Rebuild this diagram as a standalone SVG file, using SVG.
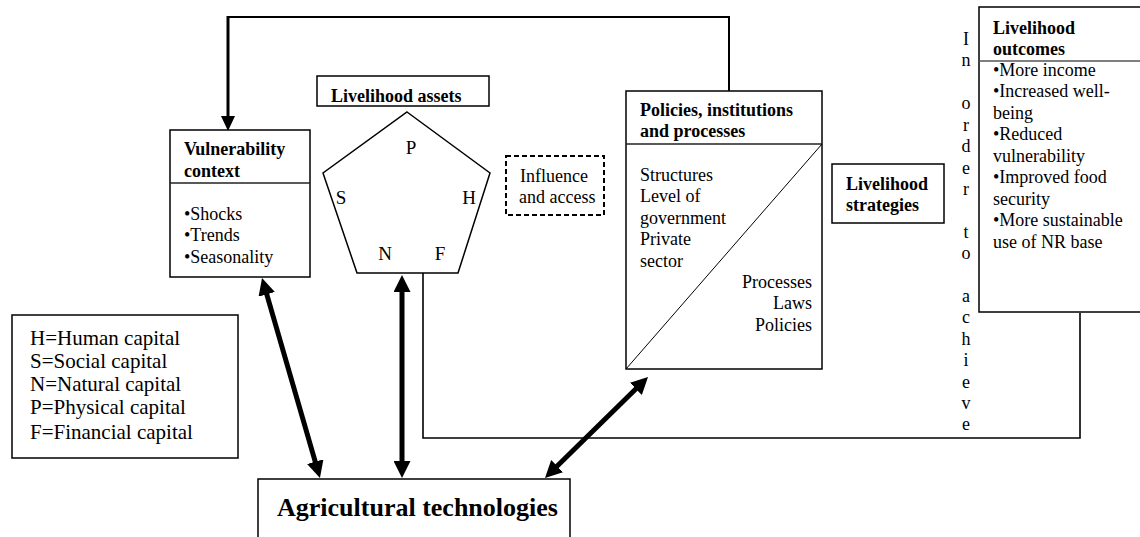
<svg xmlns="http://www.w3.org/2000/svg" width="1140" height="537" viewBox="0 0 1140 537">
  <style>
    .box { fill: #fff; stroke: #000; stroke-width: 1.5; }
    .sep { fill: none; stroke: #222; stroke-width: 1.5; }
    .t { font-family: "Liberation Serif", "Times New Roman", Times, serif; font-size: 18px; fill: #000; }
    .b { font-weight: bold; }
    .leg { font-size: 21px; }
    .big { font-size: 26px; }
    .lbl { font-size: 19px; text-anchor: middle; }
    .vt { text-anchor: middle; }
    .thick { fill: none; stroke: #000; stroke-width: 5; }
    .thin { fill: none; stroke: #000; stroke-width: 1.6; }
  </style>
  <defs>
    <marker id="headBig" markerUnits="userSpaceOnUse" markerWidth="18" markerHeight="17" refX="2" refY="8.5" orient="auto-start-reverse">
      <path d="M0,0 L17,8.5 L0,17 z" fill="#000"/>
    </marker>
    <marker id="headMid" markerUnits="userSpaceOnUse" markerWidth="16" markerHeight="14" refX="1" refY="7" orient="auto">
      <path d="M0,0 L15,7 L0,14 z" fill="#000"/>
    </marker>
    <marker id="headSmall" markerUnits="userSpaceOnUse" markerWidth="13" markerHeight="11" refX="1" refY="5.5" orient="auto">
      <path d="M0,0 L12,5.5 L0,11 z" fill="#000"/>
    </marker>
  </defs>

  <!-- connectors -->
  <g id="connectors">
    <!-- feedback from policies back to vulnerability context -->
    <polyline points="729,91 729,17 228,17" fill="none" stroke="#000" stroke-width="2"/>
    <line x1="228" y1="16" x2="228" y2="117" stroke="#000" stroke-width="3" marker-end="url(#headMid)"/>
    <!-- outcomes loop back to assets -->
    <polyline class="thin" points="1080,313 1080,438 423,438 423,264" marker-end="url(#headSmall)"/>
    <!-- two-way links with agricultural technologies -->
    <line class="thick" x1="266.2" y1="292.4" x2="315.8" y2="463.6" marker-start="url(#headBig)" marker-end="url(#headBig)"/>
    <line class="thick" x1="402" y1="290" x2="402" y2="463" marker-start="url(#headBig)" marker-end="url(#headBig)"/>
    <line class="thick" x1="555.7" y1="467.5" x2="637.3" y2="387.5" marker-start="url(#headBig)" marker-end="url(#headBig)"/>
  </g>

  <!-- vulnerability context -->
  <g id="vulnerability">
    <rect class="box" x="170" y="130" width="140" height="147"/>
    <line class="sep" x1="170" y1="183" x2="310" y2="183"/>
    <text class="t b" x="184" y="155">Vulnerability</text>
    <text class="t b" x="184" y="177">context</text>
    <text class="t" x="184" y="220">•Shocks</text>
    <text class="t" x="184" y="241">•Trends</text>
    <text class="t" x="184" y="263">•Seasonality</text>
  </g>

  <!-- livelihood assets -->
  <g id="assets-title">
    <rect class="box" x="317" y="76" width="172" height="30"/>
    <text class="t b" x="331" y="102">Livelihood assets</text>
  </g>
  <g id="assets-pentagon">
    <polygon class="box" points="407,112 490,173 458,273 357,273 323,173"/>
    <text class="t lbl" x="411" y="154">P</text>
    <text class="t lbl" x="341" y="204">S</text>
    <text class="t lbl" x="469" y="204">H</text>
    <text class="t lbl" x="385" y="260">N</text>
    <text class="t lbl" x="440" y="260">F</text>
  </g>

  <!-- influence and access -->
  <g id="influence">
    <rect x="506" y="156" width="98" height="59" fill="#fff" stroke="#000" stroke-width="2" stroke-dasharray="5,3"/>
    <text class="t" x="520" y="182">Influence</text>
    <text class="t" x="519" y="203">and access</text>
  </g>

  <!-- policies, institutions and processes -->
  <g id="policies">
    <rect class="box" x="626" y="91" width="196" height="278"/>
    <line class="sep" x1="626" y1="144" x2="822" y2="144"/>
    <line x1="626" y1="369" x2="822" y2="144" stroke="#000" stroke-width="1"/>
    <text class="t b" x="640" y="116">Policies, institutions</text>
    <text class="t b" x="640" y="137">and processes</text>
    <text class="t" x="640" y="181">Structures</text>
    <text class="t" x="640" y="202">Level of</text>
    <text class="t" x="640" y="224">government</text>
    <text class="t" x="640" y="245">Private</text>
    <text class="t" x="640" y="267">sector</text>
    <text class="t" x="812" y="288" text-anchor="end">Processes</text>
    <text class="t" x="812" y="309" text-anchor="end">Laws</text>
    <text class="t" x="812" y="331" text-anchor="end">Policies</text>
  </g>

  <!-- livelihood strategies -->
  <g id="strategies">
    <rect class="box" x="832" y="164" width="112" height="59"/>
    <text class="t b" x="846" y="190">Livelihood</text>
    <text class="t b" x="846" y="211">strategies</text>
  </g>

  <!-- vertical caption -->
  <g id="caption">
    <text class="t vt" x="966" y="45">I</text>
    <text class="t vt" x="966" y="66">n</text>
    <text class="t vt" x="966" y="109">o</text>
    <text class="t vt" x="966" y="131">r</text>
    <text class="t vt" x="966" y="152">d</text>
    <text class="t vt" x="966" y="174">e</text>
    <text class="t vt" x="966" y="195">r</text>
    <text class="t vt" x="966" y="238">t</text>
    <text class="t vt" x="966" y="259">o</text>
    <text class="t vt" x="966" y="302">a</text>
    <text class="t vt" x="966" y="323">c</text>
    <text class="t vt" x="966" y="345">h</text>
    <text class="t vt" x="966" y="366">i</text>
    <text class="t vt" x="966" y="388">e</text>
    <text class="t vt" x="966" y="409">v</text>
    <text class="t vt" x="966" y="430">e</text>
  </g>

  <!-- livelihood outcomes -->
  <g id="outcomes">
    <rect class="box" x="979" y="7" width="200" height="305"/>
    <line x1="979" y1="61" x2="1140" y2="61" stroke="#555" stroke-width="1.5"/>
    <text class="t b" x="993" y="34">Livelihood</text>
    <text class="t b" x="993" y="55">outcomes</text>
    <text class="t" x="993" y="76">•More income</text>
    <text class="t" x="993" y="97">•Increased well-</text>
    <text class="t" x="993" y="119">being</text>
    <text class="t" x="993" y="140">•Reduced</text>
    <text class="t" x="993" y="162">vulnerability</text>
    <text class="t" x="993" y="183">•Improved food</text>
    <text class="t" x="993" y="205">security</text>
    <text class="t" x="993" y="226">•More sustainable</text>
    <text class="t" x="993" y="248">use of NR base</text>
  </g>

  <!-- legend -->
  <g id="legend">
    <rect class="box" x="12" y="315" width="226" height="143"/>
    <text class="t leg" x="30" y="345">H=Human capital</text>
    <text class="t leg" x="30" y="368">S=Social capital</text>
    <text class="t leg" x="30" y="391">N=Natural capital</text>
    <text class="t leg" x="30" y="414">P=Physical capital</text>
    <text class="t leg" x="30" y="439">F=Financial capital</text>
  </g>

  <!-- agricultural technologies -->
  <g id="agri">
    <rect class="box" x="258" y="479" width="312" height="80"/>
    <text class="t b big" x="277" y="516">Agricultural technologies</text>
  </g>
</svg>
